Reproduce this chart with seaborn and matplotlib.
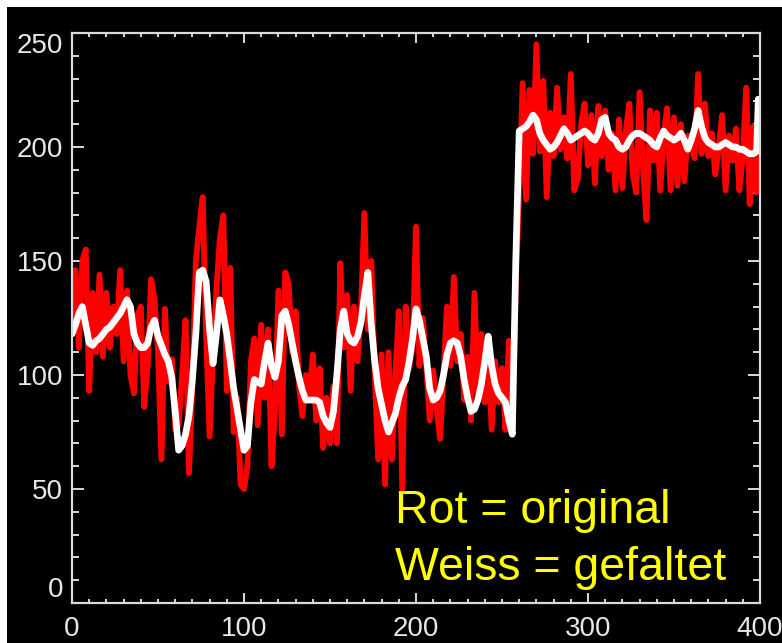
import numpy as np
import pandas as pd
import matplotlib
matplotlib.use("Agg")
import matplotlib.pyplot as plt
import seaborn as sns
from matplotlib.patches import Rectangle
from matplotlib.ticker import MultipleLocator, FixedLocator

# ---------------- data ----------------
x_positions = list(range(0, 400, 2)) + [399]

red_original = [
    120, 146, 112, 150, 155, 93, 136, 110, 144, 108,
    136, 112, 130, 118, 146, 106, 137, 100, 92, 126,
    130, 86, 104, 142, 133, 110, 63, 129, 97, 107,
    76, 78, 100, 124, 57, 95, 150, 165, 178, 117,
    73, 110, 138, 160, 170, 93, 147, 75, 90, 52,
    50, 60, 106, 116, 78, 122, 90, 120, 60, 84,
    137, 74, 145, 140, 110, 128, 95, 82, 100, 90,
    109, 80, 103, 68, 90, 70, 95, 70, 149, 112,
    135, 93, 130, 106, 128, 171, 120, 150, 100, 63,
    109, 52, 110, 63, 100, 128, 50, 130, 103, 112,
    165, 104, 125, 103, 80, 102, 85, 72, 100, 130,
    104, 143, 106, 118, 89, 108, 80, 136, 91, 118,
    88, 112, 76, 106, 88, 103, 76, 115, 75, 140,
    179, 228, 177, 225, 197, 245, 198, 229, 178, 215,
    196, 226, 199, 213, 195, 232, 181, 186, 210, 219,
    192, 214, 184, 218, 196, 216, 190, 206, 181, 212,
    182, 207, 219, 188, 180, 224, 190, 168, 216, 194,
    215, 181, 205, 217, 181, 213, 183, 210, 185, 205,
    200, 195, 232, 197, 219, 196, 206, 188, 200, 214,
    181, 205, 194, 208, 181, 196, 226, 175, 209, 180,
    221,
]

white_folded = [
    118, 122, 127, 130, 122, 114, 113, 115, 116, 118,
    120, 121, 123, 125, 127, 130, 133, 130, 118, 114,
    112, 112, 114, 121, 124, 117, 113, 109, 106, 99,
    84, 67, 69, 74, 82, 98, 118, 145, 146, 141,
    120, 105, 118, 133, 126, 118, 106, 94, 85, 76,
    67, 69, 88, 98, 97, 96, 106, 114, 104, 99,
    106, 126, 128, 122, 114, 106, 99, 93, 89, 89,
    89, 89, 88, 82, 79, 77, 84, 100, 120, 128,
    118, 115, 114, 117, 123, 135, 145, 122, 106, 94,
    87, 80, 75, 79, 83, 90, 95, 98, 106, 116,
    129, 124, 116, 108, 94, 89, 90, 93, 100, 109,
    114, 115, 114, 108, 98, 90, 84, 85, 89, 96,
    106, 117, 104, 96, 92, 90, 88, 80, 74, 150,
    207, 208, 209, 211, 214, 212, 206, 203, 201, 199,
    200, 202, 205, 208, 206, 203, 204, 205, 206, 207,
    206, 204, 203, 206, 212, 213, 206, 204, 203, 200,
    199, 200, 203, 205, 206, 206, 205, 204, 203, 201,
    200, 204, 207, 205, 204, 203, 204, 206, 203, 199,
    203, 208, 216, 209, 204, 202, 201, 200, 200, 201,
    202, 201, 200, 200, 199, 199, 198, 197, 197, 198,
    221,
]

x_ticks = [0, 100, 200, 300, 400]
x_tick_labels = ["0", "100", "200", "300", "400"]
y_ticks = [0, 50, 100, 150, 200, 250]
y_tick_labels = ["0", "50", "100", "150", "200", "250"]
annotation_lines = ["Rot = original", "Weiss = gefaltet"]

df = pd.DataFrame({"x": x_positions, "original": red_original, "gefaltet": white_folded})

# ---------------- style ----------------
sns.set_theme(style="ticks")
plt.rcParams["font.family"] = ["Liberation Sans", "DejaVu Sans"]

W, H = 782, 643
fig = plt.figure(figsize=(W / 100, H / 100), dpi=100)
fig.patch.set_facecolor("white")
fig.add_artist(Rectangle((7 / W, 0), 1 - 7 / W, 1 - 7 / H, transform=fig.transFigure,
                         facecolor="black", edgecolor="none", zorder=-10))

left, right, top, bottom = 72, 760, 33, 603
ax = fig.add_axes([left / W, 1 - bottom / H, (right - left) / W, (bottom - top) / H])
ax.set_facecolor("black")

sns.lineplot(data=df, x="x", y="original", ax=ax, color="#ff0000", linewidth=4.2,
             estimator=None, sort=False, legend=False)
sns.lineplot(data=df, x="x", y="gefaltet", ax=ax, color="white", linewidth=4.8,
             estimator=None, sort=False, legend=False)

ax.set_xlim(0, 400)
ax.set_ylim(0, 250)
ax.set_xlabel("")
ax.set_ylabel("")

axis_col = "#d9d9d9"
for s in ax.spines.values():
    s.set_color(axis_col)
    s.set_linewidth(1.6)
    s.set_visible(True)

ax.xaxis.set_major_locator(FixedLocator(x_ticks))
ax.yaxis.set_major_locator(FixedLocator(y_ticks))
ax.xaxis.set_minor_locator(MultipleLocator(10))
ax.yaxis.set_minor_locator(MultipleLocator(10))
ax.set_xticklabels(x_tick_labels)
ax.set_yticklabels(y_tick_labels)

ax.tick_params(which="both", direction="in", top=True, right=True, color=axis_col, width=1.4,
               labelcolor="#e8e8e8", labelsize=20)
ax.tick_params(axis="x", which="major", length=7, pad=9)
ax.tick_params(axis="x", which="minor", length=3)
ax.tick_params(axis="y", which="major", length=8.5, pad=6.5)
ax.tick_params(axis="y", which="minor", length=5)

ylabels = ax.get_yticklabels()
ylabels[0].set_va("bottom")
ylabels[-1].set_va("top")

txt_font = ["Liberation Sans", "DejaVu Sans"]
ax.text(188, 35.1, annotation_lines[0], color="#ffff00", fontsize=33.5, family=txt_font,
        ha="left", va="baseline")
ax.text(188, 10.1, annotation_lines[1], color="#ffff00", fontsize=33.5, family=txt_font,
        ha="left", va="baseline")

fig.savefig("out.png", dpi=100, facecolor=fig.get_facecolor())
